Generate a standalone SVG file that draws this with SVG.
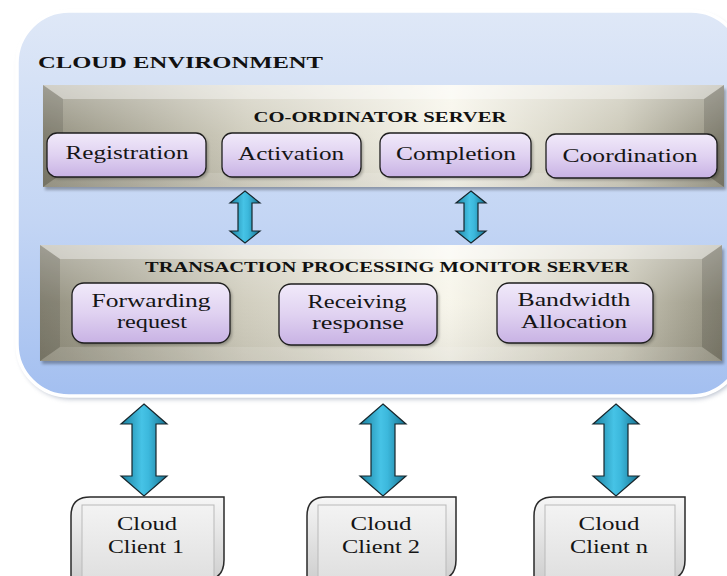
<svg xmlns="http://www.w3.org/2000/svg" xmlns:xlink="http://www.w3.org/1999/xlink" width="727" height="576" viewBox="0 0 727 576">
<style>
  .ttl{font-family:"Liberation Serif","Times New Roman",serif;font-weight:bold;fill:#111;}
  .lbl{font-family:"Liberation Serif","Times New Roman",serif;font-size:19px;fill:#151515;text-anchor:middle;}
  .pbox{fill:url(#purple);stroke:#1e1e1e;stroke-width:1.3;}
  .pshadow{fill:#000;opacity:0.28;}
  .arrow{fill:url(#teal);stroke:#17262c;stroke-width:1.2;stroke-linejoin:miter;}
  .cl-outer{fill:url(#grayOuter);stroke:#2a2a2a;stroke-width:1.5;}
  .cl-inner{fill:url(#grayInner);stroke:#b9b9b9;stroke-width:1;}
</style>
<defs>
  <linearGradient id="cloudFill" x1="0" y1="0" x2="0" y2="1">
    <stop offset="0" stop-color="#dfe8f7"/>
    <stop offset="0.55" stop-color="#c3d5f4"/>
    <stop offset="1" stop-color="#a3bff0"/>
  </linearGradient>
  <linearGradient id="face" x1="0" y1="0" x2="1" y2="0">
    <stop offset="0" stop-color="#8e8b79"/>
    <stop offset="0.3" stop-color="#cfccbc"/>
    <stop offset="0.6" stop-color="#f7f5ea"/>
    <stop offset="0.85" stop-color="#c9c6b5"/>
    <stop offset="1" stop-color="#908d7b"/>
  </linearGradient>
  <linearGradient id="faceV" x1="0" y1="0" x2="0" y2="1">
    <stop offset="0" stop-color="#fff" stop-opacity="0.35"/>
    <stop offset="0.5" stop-color="#fff" stop-opacity="0.05"/>
    <stop offset="1" stop-color="#000" stop-opacity="0.06"/>
  </linearGradient>
  <linearGradient id="purple" x1="0" y1="0" x2="0" y2="1">
    <stop offset="0" stop-color="#f1eafa"/>
    <stop offset="0.5" stop-color="#e0d2f1"/>
    <stop offset="1" stop-color="#c8b2e4"/>
  </linearGradient>
  <linearGradient id="teal" x1="0" y1="0" x2="1" y2="0">
    <stop offset="0" stop-color="#1a7f9e"/>
    <stop offset="0.45" stop-color="#46c3e6"/>
    <stop offset="0.6" stop-color="#3cb8dc"/>
    <stop offset="1" stop-color="#17718f"/>
  </linearGradient>
  <linearGradient id="grayOuter" x1="0" y1="0" x2="0" y2="1">
    <stop offset="0" stop-color="#f6f6f6"/>
    <stop offset="1" stop-color="#cfcfcf"/>
  </linearGradient>
  <linearGradient id="grayInner" x1="0" y1="0" x2="0" y2="1">
    <stop offset="0" stop-color="#f3f3f3"/>
    <stop offset="1" stop-color="#dedede"/>
  </linearGradient>
  <filter id="blur" x="-10%" y="-10%" width="120%" height="120%">
    <feGaussianBlur stdDeviation="2.5"/>
  </filter>
  <filter id="blur1" x="-10%" y="-10%" width="120%" height="130%">
    <feGaussianBlur stdDeviation="1.5"/>
  </filter>
</defs>

<rect width="727" height="576" fill="#ffffff"/>

<!-- Cloud environment container -->
<g id="cloud-environment">
  <rect x="19" y="14" width="726" height="385" rx="52" ry="52" fill="#7d8aa3" opacity="0.55" filter="url(#blur)"/>
  <rect x="17" y="11" width="726" height="385" rx="52" ry="52" fill="url(#cloudFill)" stroke="#ffffff" stroke-width="3.5"/>
  <text class="ttl" x="38" y="68" font-size="17" textLength="285" lengthAdjust="spacingAndGlyphs">CLOUD ENVIRONMENT</text>
</g>

<!-- Co-ordinator server -->
<g id="coordinator-server">
  <rect x="45" y="89" width="681" height="101" fill="#000" opacity="0.3" filter="url(#blur1)"/>
  <rect x="43" y="85" width="681" height="102" fill="url(#face)"/>
  <rect x="43" y="85" width="681" height="102" fill="url(#faceV)"/>
  <polygon points="43,85 724,85 704,99 63,99" fill="#fff" opacity="0.38"/>
  <polygon points="43,85 63,99 63,173 43,187" fill="#000" opacity="0.12"/>
  <polygon points="724,85 724,187 704,173 704,99" fill="#000" opacity="0.14"/>
  <polygon points="43,187 63,173 704,173 724,187" fill="#fff" opacity="0.12"/>
  <text class="ttl" x="380" y="122" font-size="15.5" text-anchor="middle" textLength="253" lengthAdjust="spacingAndGlyphs">CO-ORDINATOR SERVER</text>
</g>

<g id="registration">
  <rect class="pshadow" x="49" y="135" width="159" height="44" rx="10" filter="url(#blur1)"/>
  <rect class="pbox" x="47" y="133" width="159" height="44" rx="10"/>
  <text class="lbl" x="127" y="159" textLength="123" lengthAdjust="spacingAndGlyphs">Registration</text>
</g>
<g id="activation">
  <rect class="pshadow" x="224" y="135" width="139" height="44" rx="10" filter="url(#blur1)"/>
  <rect class="pbox" x="222" y="133" width="139" height="44" rx="10"/>
  <text class="lbl" x="291" y="160" textLength="106" lengthAdjust="spacingAndGlyphs">Activation</text>
</g>
<g id="completion">
  <rect class="pshadow" x="382" y="135" width="151" height="44" rx="10" filter="url(#blur1)"/>
  <rect class="pbox" x="380" y="133" width="151" height="44" rx="10"/>
  <text class="lbl" x="456" y="160" textLength="120" lengthAdjust="spacingAndGlyphs">Completion</text>
</g>
<g id="coordination">
  <rect class="pshadow" x="548" y="136" width="171" height="44" rx="10" filter="url(#blur1)"/>
  <rect class="pbox" x="546" y="134" width="171" height="44" rx="10"/>
  <text class="lbl" x="630" y="162" textLength="135" lengthAdjust="spacingAndGlyphs">Coordination</text>
</g>

<!-- Transaction processing monitor server -->
<g id="tpm-server">
  <rect x="42" y="249" width="682" height="115" fill="#000" opacity="0.3" filter="url(#blur1)"/>
  <rect x="40" y="245" width="682" height="116" fill="url(#face)"/>
  <rect x="40" y="245" width="682" height="116" fill="url(#faceV)"/>
  <polygon points="40,245 722,245 702,259 60,259" fill="#fff" opacity="0.38"/>
  <polygon points="40,245 60,259 60,347 40,361" fill="#000" opacity="0.12"/>
  <polygon points="722,245 722,361 702,347 702,259" fill="#000" opacity="0.14"/>
  <polygon points="40,361 60,347 702,347 722,361" fill="#fff" opacity="0.12"/>
  <text class="ttl" x="387" y="272" font-size="15" text-anchor="middle" textLength="484" lengthAdjust="spacingAndGlyphs">TRANSACTION PROCESSING MONITOR SERVER</text>
</g>

<g id="forwarding-request">
  <rect class="pshadow" x="74" y="285" width="158" height="60" rx="12" filter="url(#blur1)"/>
  <rect class="pbox" x="72" y="283" width="158" height="60" rx="12"/>
  <text class="lbl" x="151" y="307" textLength="119" lengthAdjust="spacingAndGlyphs">Forwarding</text>
  <text class="lbl" x="152" y="328" textLength="70" lengthAdjust="spacingAndGlyphs">request</text>
</g>
<g id="receiving-response">
  <rect class="pshadow" x="281" y="286" width="158" height="61" rx="12" filter="url(#blur1)"/>
  <rect class="pbox" x="279" y="284" width="158" height="61" rx="12"/>
  <text class="lbl" x="357" y="308" textLength="99" lengthAdjust="spacingAndGlyphs">Receiving</text>
  <text class="lbl" x="358" y="329" textLength="92" lengthAdjust="spacingAndGlyphs">response</text>
</g>
<g id="bandwidth-allocation">
  <rect class="pshadow" x="499" y="285" width="156" height="60" rx="12" filter="url(#blur1)"/>
  <rect class="pbox" x="497" y="283" width="156" height="60" rx="12"/>
  <text class="lbl" x="574" y="306" textLength="113" lengthAdjust="spacingAndGlyphs">Bandwidth</text>
  <text class="lbl" x="574" y="328" textLength="106" lengthAdjust="spacingAndGlyphs">Allocation</text>
</g>

<!-- Cloud clients -->
<g id="cloud-client-1">
  <path class="cl-outer" d="M71,516 Q71,497 90,497 L224,497 L224,560 Q224,580 204,580 L71,580 Z"/>
  <rect class="cl-inner" x="82" y="505" width="132" height="80"/>
  <text class="lbl" x="147" y="530" textLength="60" lengthAdjust="spacingAndGlyphs">Cloud</text>
  <text class="lbl" x="146" y="553" textLength="76" lengthAdjust="spacingAndGlyphs">Client 1</text>
</g>
<g id="cloud-client-2">
  <path class="cl-outer" d="M307,516 Q307,497 326,497 L456,497 L456,560 Q456,580 436,580 L307,580 Z"/>
  <rect class="cl-inner" x="318" y="505" width="128" height="80"/>
  <text class="lbl" x="381" y="530" textLength="61" lengthAdjust="spacingAndGlyphs">Cloud</text>
  <text class="lbl" x="381" y="553" textLength="78" lengthAdjust="spacingAndGlyphs">Client 2</text>
</g>
<g id="cloud-client-n">
  <path class="cl-outer" d="M534,516 Q534,497 553,497 L685,497 L685,560 Q685,580 665,580 L534,580 Z"/>
  <rect class="cl-inner" x="545" y="505" width="130" height="80"/>
  <text class="lbl" x="609" y="530" textLength="61" lengthAdjust="spacingAndGlyphs">Cloud</text>
  <text class="lbl" x="609" y="553" textLength="78" lengthAdjust="spacingAndGlyphs">Client n</text>
</g>

<!-- Connectors -->
<g id="connectors">
  <path class="arrow" d="M245,191 L260,203 L252,203 L252,231 L260,231 L245,243 L230,231 L238,231 L238,203 L230,203 Z"/>
  <path class="arrow" d="M471,191 L486,203 L478,203 L478,231 L486,231 L471,243 L456,231 L464,231 L464,203 L456,203 Z"/>
  <path class="arrow" d="M144,404 L167,424 L156,424 L156,476 L167,476 L144,496 L121,476 L132,476 L132,424 L121,424 Z"/>
  <path class="arrow" d="M383,404 L406,424 L395,424 L395,476 L406,476 L383,496 L360,476 L371,476 L371,424 L360,424 Z"/>
  <path class="arrow" d="M616,404 L639,424 L628,424 L628,476 L639,476 L616,496 L593,476 L604,476 L604,424 L593,424 Z"/>
</g>
</svg>
